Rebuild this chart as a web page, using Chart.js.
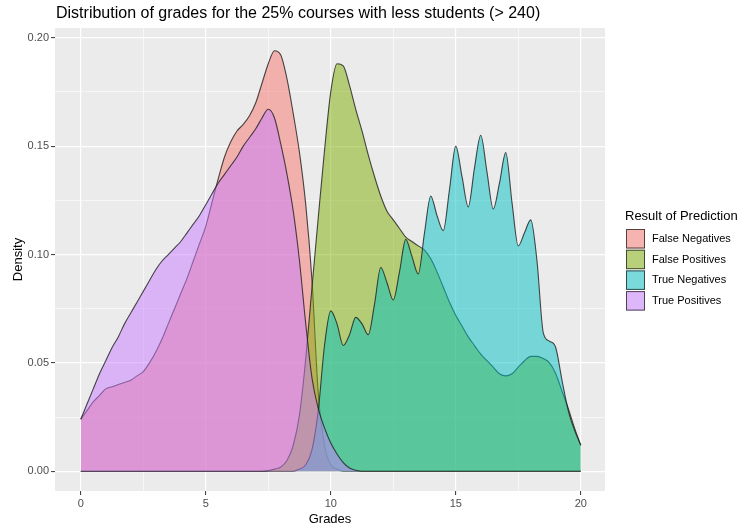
<!DOCTYPE html>
<html>
<head>
<meta charset="utf-8">
<title>Distribution of grades</title>
<script src="https://cdn.jsdelivr.net/npm/chart.js@4.4.1/dist/chart.umd.min.js"></script>
<style>
    html, body { margin: 0; padding: 0; background: #ffffff; }
    #wrap { width: 740px; height: 529px; position: relative; }
</style>
</head>
<body>
<div id="wrap"><canvas id="densityChart" width="740" height="529"></canvas></div>
<script>
// Datos (densidad estimada por nota)
const grades = [
    0, 0.25, 0.5, 0.75, 1, 1.25, 1.5, 1.75, 2, 2.25, 2.5, 2.75, 3, 3.25, 3.5, 3.75,
    4, 4.25, 4.5, 4.75, 5, 5.25, 5.5, 5.75, 6, 6.25, 6.5, 6.75, 7, 7.25, 7.5, 7.75,
    8, 8.25, 8.5, 8.75, 9, 9.25, 9.5, 9.75, 10, 10.25, 10.5, 10.75, 11, 11.25, 11.5, 11.75,
    12, 12.25, 12.5, 12.75, 13, 13.25, 13.5, 13.75, 14, 14.25, 14.5, 14.75, 15, 15.25, 15.5, 15.75,
    16, 16.25, 16.5, 16.75, 17, 17.25, 17.5, 17.75, 18, 18.25, 18.5, 18.75, 19, 19.25, 19.5, 19.75, 20
];

const falseNegatives = [
    0.024, 0.028, 0.032, 0.035, 0.038, 0.039, 0.040, 0.041, 0.042, 0.044, 0.046, 0.050, 0.055, 0.061, 0.068, 0.075,
    0.082, 0.089, 0.097, 0.105, 0.113, 0.124, 0.135, 0.145, 0.152, 0.157, 0.160, 0.164, 0.170, 0.179, 0.188, 0.194,
    0.192, 0.181, 0.165, 0.147, 0.123, 0.088, 0.036, 0.012, 0.003, 0.001, 0, 0, 0, 0, 0, 0,
    0, 0, 0, 0, 0, 0, 0, 0, 0, 0, 0, 0, 0, 0, 0, 0,
    0, 0, 0, 0, 0, 0, 0, 0, 0, 0, 0, 0, 0, 0, 0, 0, 0
];

const falsePositives = [
    0, 0, 0, 0, 0, 0, 0, 0, 0, 0, 0, 0, 0, 0, 0, 0,
    0, 0, 0, 0, 0, 0, 0, 0, 0, 0, 0, 0, 0, 0, 0.0003, 0.001,
    0.002, 0.005, 0.012, 0.026, 0.052, 0.085, 0.117, 0.148, 0.175, 0.188, 0.187, 0.178, 0.167, 0.157, 0.146, 0.136,
    0.127, 0.120, 0.116, 0.112, 0.108, 0.106, 0.104, 0.102, 0.098, 0.092, 0.085, 0.078, 0.072, 0.067, 0.062, 0.058,
    0.054, 0.051, 0.048, 0.045, 0.044, 0.045, 0.048, 0.051, 0.053, 0.053, 0.052, 0.050, 0.045, 0.037, 0.029, 0.020, 0.012
];

const trueNegatives = [
    0, 0, 0, 0, 0, 0, 0, 0, 0, 0, 0, 0, 0, 0, 0, 0,
    0, 0, 0, 0, 0, 0, 0, 0, 0, 0, 0, 0, 0, 0, 0, 0,
    0, 0, 0, 0.001, 0.003, 0.010, 0.028, 0.058, 0.074, 0.068, 0.058, 0.063, 0.071, 0.068, 0.063, 0.077,
    0.094, 0.087, 0.079, 0.092, 0.107, 0.099, 0.091, 0.110, 0.127, 0.118, 0.111, 0.130, 0.150, 0.136, 0.122, 0.140,
    0.155, 0.138, 0.121, 0.133, 0.147, 0.124, 0.104, 0.110, 0.116, 0.097, 0.064, 0.060, 0.057, 0.042, 0.028, 0.019, 0.012
];

const truePositives = [
    0.024, 0.031, 0.038, 0.045, 0.051, 0.057, 0.062, 0.068, 0.073, 0.078, 0.083, 0.088, 0.093, 0.097, 0.100, 0.103,
    0.106, 0.110, 0.114, 0.118, 0.123, 0.128, 0.133, 0.137, 0.141, 0.145, 0.150, 0.154, 0.158, 0.163, 0.167, 0.163,
    0.151, 0.137, 0.120, 0.097, 0.068, 0.043, 0.029, 0.020, 0.013, 0.008, 0.004, 0.0015, 0.0005, 0, 0, 0,
    0, 0, 0, 0, 0, 0, 0, 0, 0, 0, 0, 0, 0, 0, 0, 0,
    0, 0, 0, 0, 0, 0, 0, 0, 0, 0, 0, 0, 0, 0, 0, 0, 0
];

const seriesNames = ['False Negatives', 'False Positives', 'True Negatives', 'True Positives'];
const seriesValues = [falseNegatives, falsePositives, trueNegatives, truePositives];

// Rejilla: líneas mayores con etiqueta, menores sin etiqueta
const xGridValues = [0, 2.5, 5, 7.5, 10, 12.5, 15, 17.5, 20];
const xTickLabels = ['0', '', '5', '', '10', '', '15', '', '20'];
const yGridValues = [0, 0.025, 0.05, 0.075, 0.1, 0.125, 0.15, 0.175, 0.2];
const yTickLabels = ['0.00', '', '0.05', '', '0.10', '', '0.15', '', '0.20'];

const FONT = '"Liberation Sans", Arial, sans-serif';
const fillColors = [
    'rgba(248, 118, 109, 0.5)',
    'rgba(124, 174, 0, 0.5)',
    'rgba(0, 191, 196, 0.5)',
    'rgba(199, 124, 255, 0.5)'
];

document.addEventListener('DOMContentLoaded', function() {
    initChart();
});

function labelFor(values, labels, v) {
    const i = values.findIndex(g => Math.abs(g - v) < 1e-9);
    return i >= 0 ? labels[i] : '';
}

function isMajor(values, labels, v) {
    return labelFor(values, labels, v) !== '';
}

// Fondo gris del panel, títulos y leyenda al estilo ggplot
const ggPlugin = {
    id: 'ggStyle',
    beforeDraw(chart) {
        const { ctx, chartArea } = chart;
        ctx.save();
        ctx.fillStyle = '#EBEBEB';
        ctx.fillRect(chartArea.left, chartArea.top, chartArea.right - chartArea.left, chartArea.bottom - chartArea.top);
        ctx.restore();
    },
    afterDraw(chart) {
        const { ctx, chartArea } = chart;
        ctx.save();
        ctx.fillStyle = '#000';

        // Título
        ctx.font = '16px ' + FONT;
        ctx.textAlign = 'left';
        ctx.textBaseline = 'middle';
        ctx.fillText('Distribution of grades for the 25% courses with less students (> 240)', chartArea.left + 1, 14);

        // Títulos de ejes
        ctx.font = '13px ' + FONT;
        ctx.textAlign = 'center';
        ctx.fillText('Grades', (chartArea.left + chartArea.right) / 2, 519);
        ctx.save();
        ctx.translate(18, (chartArea.top + chartArea.bottom) / 2);
        ctx.rotate(-Math.PI / 2);
        ctx.fillText('Density', 0, 0);
        ctx.restore();

        // Leyenda
        ctx.textAlign = 'left';
        ctx.font = '13px ' + FONT;
        ctx.fillText('Result of Prediction', 625, 216);
        ctx.font = '11px ' + FONT;
        seriesNames.forEach((name, i) => {
            const y = 229 + i * 20.7;
            ctx.fillStyle = '#F2F2F2';
            ctx.fillRect(626, y, 19, 19.5);
            ctx.fillStyle = fillColors[i];
            ctx.fillRect(626, y, 19, 19.5);
            ctx.strokeStyle = 'rgba(0, 0, 0, 0.65)';
            ctx.lineWidth = 1;
            ctx.strokeRect(626.5, y + 0.5, 18, 18.5);
            ctx.fillStyle = '#000';
            ctx.fillText(name, 652, y + 10);
        });
        ctx.restore();
    }
};

function initChart() {
    const ctx = document.getElementById('densityChart').getContext('2d');
    const datasets = seriesNames.map((name, i) => ({
        label: name,
        data: grades.map((g, j) => ({ x: g, y: seriesValues[i][j] })),
        backgroundColor: fillColors[i],
        borderColor: 'rgba(30, 30, 30, 0.8)',
        borderWidth: 1.1,
        fill: 'origin',
        pointRadius: 0,
        cubicInterpolationMode: 'monotone',
        order: seriesNames.length - 1 - i
    }));

    new Chart(ctx, {
        type: 'line',
        data: { datasets: datasets },
        options: {
            responsive: false,
            animation: false,
            layout: { padding: { left: 0, top: 28, right: 135, bottom: 0 } },
            plugins: {
                legend: { display: false },
                tooltip: { enabled: false }
            },
            scales: {
                x: {
                    type: 'linear',
                    min: -1.03,
                    max: 20.97,
                    afterBuildTicks: s => { s.ticks = xGridValues.map(v => ({ value: v })); },
                    afterFit: s => { s.height = 38; },
                    border: { display: false },
                    grid: {
                        color: '#FFFFFF',
                        lineWidth: c => isMajor(xGridValues, xTickLabels, c.tick.value) ? 1.2 : 0.6,
                        drawTicks: true,
                        tickLength: 4,
                        tickColor: c => isMajor(xGridValues, xTickLabels, c.tick.value) ? '#333333' : 'rgba(0,0,0,0)',
                        tickWidth: 1
                    },
                    ticks: {
                        autoSkip: false,
                        maxRotation: 0,
                        padding: 2,
                        color: '#4D4D4D',
                        font: { size: 11, family: FONT },
                        callback: v => labelFor(xGridValues, xTickLabels, v)
                    }
                },
                y: {
                    type: 'linear',
                    min: -0.0091,
                    max: 0.2045,
                    afterBuildTicks: s => { s.ticks = yGridValues.map(v => ({ value: v })); },
                    afterFit: s => { s.width = 55; },
                    border: { display: false },
                    grid: {
                        color: '#FFFFFF',
                        lineWidth: c => isMajor(yGridValues, yTickLabels, c.tick.value) ? 1.2 : 0.6,
                        drawTicks: true,
                        tickLength: 4,
                        tickColor: c => isMajor(yGridValues, yTickLabels, c.tick.value) ? '#333333' : 'rgba(0,0,0,0)',
                        tickWidth: 1
                    },
                    ticks: {
                        autoSkip: false,
                        padding: 2,
                        color: '#4D4D4D',
                        font: { size: 11, family: FONT },
                        callback: v => labelFor(yGridValues, yTickLabels, v)
                    }
                }
            }
        },
        plugins: [ggPlugin]
    });
}
</script>
</body>
</html>
